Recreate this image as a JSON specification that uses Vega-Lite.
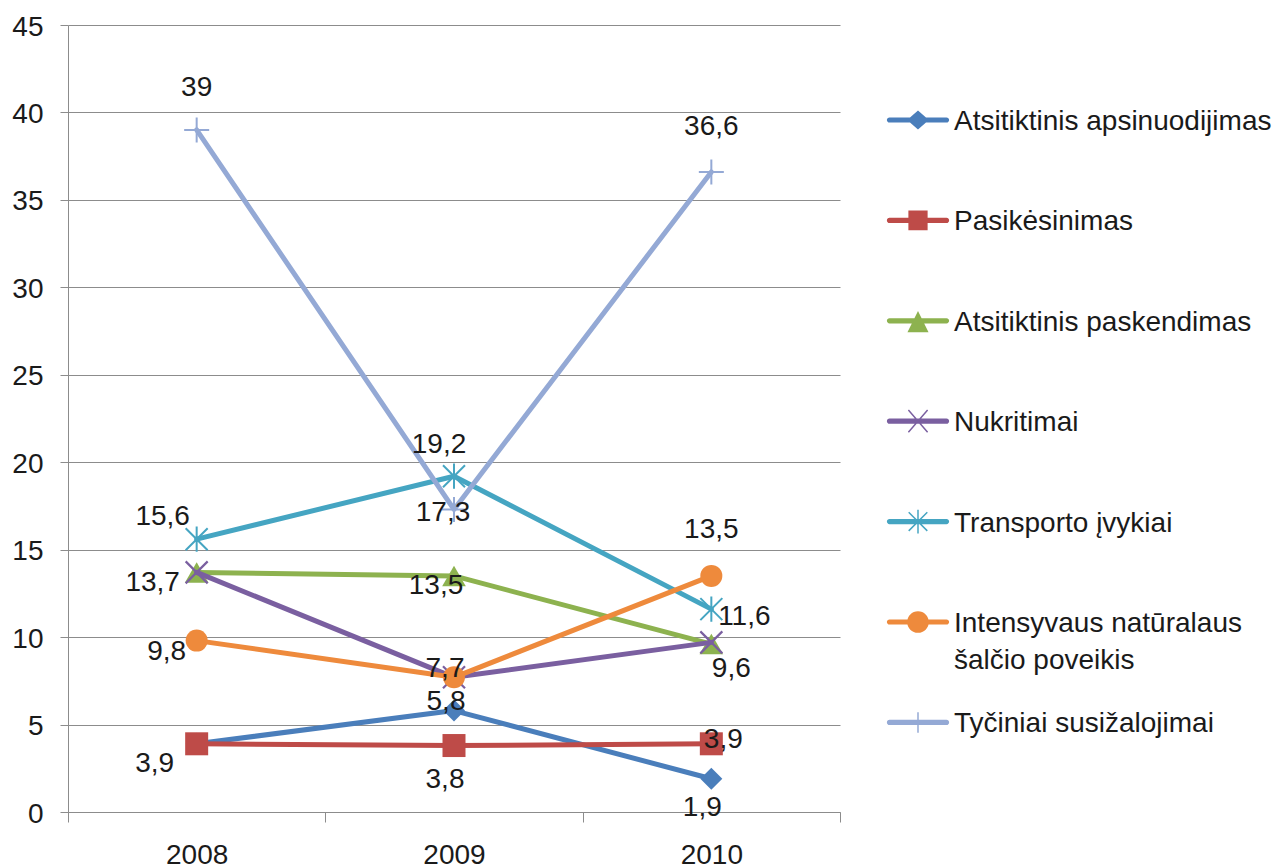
{
  "$schema": "https://vega.github.io/schema/vega-lite/v6.json",
  "width": 772,
  "height": 787,
  "autosize": {"type": "none"},
  "padding": {"left": 68, "top": 25, "right": 440, "bottom": 56},
  "background": "white",
  "config": {
    "view": {"stroke": null},
    "locale": {"number": {"decimal": ",", "thousands": " ", "grouping": [3], "currency": ["", ""]}},
    "axis": {
      "labelFont": "Liberation Sans",
      "labelFontSize": 28,
      "labelColor": "#1a1a1a",
      "domainColor": "#8c8c8c",
      "tickColor": "#8c8c8c",
      "gridColor": "#8c8c8c",
      "gridOpacity": 1,
      "domainWidth": 1,
      "tickWidth": 1,
      "gridWidth": 1
    },
    "text": {"font": "Liberation Sans", "fontSize": 28, "align": "center", "baseline": "middle"}
  },
  "data": {
    "values": [
      {"series": "Atsitiktinis apsinuodijimas", "year": "2008", "v": 3.9},
      {"series": "Atsitiktinis apsinuodijimas", "year": "2009", "v": 5.8},
      {"series": "Atsitiktinis apsinuodijimas", "year": "2010", "v": 1.9},
      {"series": "Pasikėsinimas", "year": "2008", "v": 3.9},
      {"series": "Pasikėsinimas", "year": "2009", "v": 3.8},
      {"series": "Pasikėsinimas", "year": "2010", "v": 3.9},
      {"series": "Atsitiktinis paskendimas", "year": "2008", "v": 13.7},
      {"series": "Atsitiktinis paskendimas", "year": "2009", "v": 13.5},
      {"series": "Atsitiktinis paskendimas", "year": "2010", "v": 9.6},
      {"series": "Nukritimai", "year": "2008", "v": 13.7},
      {"series": "Nukritimai", "year": "2009", "v": 7.7},
      {"series": "Nukritimai", "year": "2010", "v": 9.7},
      {"series": "Transporto įvykiai", "year": "2008", "v": 15.6},
      {"series": "Transporto įvykiai", "year": "2009", "v": 19.2},
      {"series": "Transporto įvykiai", "year": "2010", "v": 11.6},
      {"series": "Intensyvaus natūralaus šalčio poveikis", "year": "2008", "v": 9.8},
      {"series": "Intensyvaus natūralaus šalčio poveikis", "year": "2009", "v": 7.7},
      {"series": "Intensyvaus natūralaus šalčio poveikis", "year": "2010", "v": 13.5},
      {"series": "Tyčiniai susižalojimai", "year": "2008", "v": 39},
      {"series": "Tyčiniai susižalojimai", "year": "2009", "v": 17.3},
      {"series": "Tyčiniai susižalojimai", "year": "2010", "v": 36.6}
    ]
  },
  "encoding": {
    "x": {
      "field": "year", "type": "ordinal",
      "scale": {"type": "band", "paddingInner": 0, "paddingOuter": 0},
      "axis": {"title": null, "labelAngle": 0, "tickBand": "extent", "tickSize": 10, "labelPadding": 19, "grid": false}
    },
    "y": {
      "field": "v", "type": "quantitative",
      "scale": {"domain": [0, 45], "nice": false, "zero": true},
      "axis": {"title": null, "values": [0, 5, 10, 15, 20, 25, 30, 35, 40, 45], "tickSize": 8, "labelPadding": 17, "labelOffset": 2, "grid": true}
    }
  },
  "layer": [
    {
      "transform": [{"filter": "datum.series === 'Atsitiktinis apsinuodijimas'"}],
      "encoding": {"color": {"value": "#4A7EBB"}},
      "layer": [
        {"mark": {"type": "line", "strokeWidth": 5, "strokeCap": "round", "strokeJoin": "round"}, "encoding": {}},
        {"mark": {"type": "point", "shape": "diamond", "filled": true, "size": 484, "opacity": 1}, "encoding": {}}
      ]
    },
    {
      "transform": [{"filter": "datum.series === 'Pasikėsinimas'"}],
      "encoding": {"color": {"value": "#BE4B48"}},
      "layer": [
        {"mark": {"type": "line", "strokeWidth": 5, "strokeCap": "round", "strokeJoin": "round"}, "encoding": {}},
        {"mark": {"type": "point", "shape": "square", "filled": true, "size": 529, "opacity": 1}, "encoding": {}}
      ]
    },
    {
      "transform": [{"filter": "datum.series === 'Atsitiktinis paskendimas'"}],
      "encoding": {"color": {"value": "#8DB24F"}},
      "layer": [
        {"mark": {"type": "line", "strokeWidth": 5, "strokeCap": "round", "strokeJoin": "round"}, "encoding": {}},
        {"mark": {"type": "point", "shape": "triangle-up", "filled": true, "size": 560, "opacity": 1}, "encoding": {}}
      ]
    },
    {
      "transform": [{"filter": "datum.series === 'Nukritimai'"}],
      "encoding": {"color": {"value": "#7A5FA0"}},
      "layer": [
        {"mark": {"type": "line", "strokeWidth": 5, "strokeCap": "round", "strokeJoin": "round"}, "encoding": {}},
        {"mark": {"type": "point", "shape": "M-1,-1L1,1M-1,1L1,-1", "filled": false, "strokeWidth": 2.2, "size": 484, "opacity": 1}, "encoding": {}}
      ]
    },
    {
      "transform": [{"filter": "datum.series === 'Transporto įvykiai'"}],
      "encoding": {"color": {"value": "#45A5C2"}},
      "layer": [
        {"mark": {"type": "line", "strokeWidth": 5, "strokeCap": "round", "strokeJoin": "round"}, "encoding": {}},
        {"mark": {"type": "point", "shape": "M0,-1.15L0,1.15M-1,-1L1,1M-1,1L1,-1", "filled": false, "strokeWidth": 2, "size": 484, "opacity": 1}, "encoding": {}}
      ]
    },
    {
      "transform": [{"filter": "datum.series === 'Intensyvaus natūralaus šalčio poveikis'"}],
      "encoding": {"color": {"value": "#EE8A3C"}},
      "layer": [
        {"mark": {"type": "line", "strokeWidth": 5, "strokeCap": "round", "strokeJoin": "round"}, "encoding": {}},
        {"mark": {"type": "point", "shape": "circle", "filled": true, "size": 484, "opacity": 1}, "encoding": {}}
      ]
    },
    {
      "transform": [{"filter": "datum.series === 'Tyčiniai susižalojimai'"}],
      "encoding": {"color": {"value": "#94A9D5"}},
      "layer": [
        {"mark": {"type": "line", "strokeWidth": 5, "strokeCap": "round", "strokeJoin": "round"}, "encoding": {}},
        {"mark": {"type": "point", "shape": "M-1,0L1,0M0,-1L0,1", "filled": false, "strokeWidth": 2, "size": 625, "opacity": 1}, "encoding": {}}
      ]
    },
    {
      "mark": {"type": "point", "filled": true, "opacity": 0, "size": 3844},
      "encoding": {
        "fill": {
          "field": "series", "type": "nominal",
          "scale": {
            "domain": ["Atsitiktinis apsinuodijimas", "Pasikėsinimas", "Atsitiktinis paskendimas", "Nukritimai", "Transporto įvykiai", "Intensyvaus natūralaus šalčio poveikis", "Tyčiniai susižalojimai"],
            "range": ["#4A7EBB", "#BE4B48", "#8DB24F", "#7A5FA0", "#45A5C2", "#EE8A3C", "#94A9D5"]
          },
          "legend": {
            "title": null, "orient": "none", "legendX": 819, "legendY": 64, "padding": 0,
            "labelFont": "Liberation Sans", "labelFontSize": 28, "labelColor": "#1a1a1a", "labelLimit": 420,
            "labelOffset": 5, "labelBaseline": "top", "symbolSize": 3844, "symbolStrokeWidth": 0,
            "symbolOpacity": 1, "rowPadding": 16.4, "gridAlign": "all",
            "labelExpr": "datum.label === 'Intensyvaus natūralaus šalčio poveikis' ? ['Intensyvaus natūralaus', 'šalčio poveikis'] : datum.label",
            "encode": {"labels": {"update": {"dy": {"value": -12}, "lineHeight": {"value": 37}}}}
          }
        },
        "shape": {
          "field": "series", "type": "nominal",
          "scale": {
            "domain": ["Atsitiktinis apsinuodijimas", "Pasikėsinimas", "Atsitiktinis paskendimas", "Nukritimai", "Transporto įvykiai", "Intensyvaus natūralaus šalčio poveikis", "Tyčiniai susižalojimai"],
            "range": [
              "M-0.92,-0.084L0.92,-0.084A0.084,0.084,0,0,1,0.92,0.084L-0.92,0.084A0.084,0.084,0,0,1,-0.92,-0.084ZM-0.35,0L0,-0.31L0.35,0L0,0.31Z",
              "M-0.92,-0.084L0.92,-0.084A0.084,0.084,0,0,1,0.92,0.084L-0.92,0.084A0.084,0.084,0,0,1,-0.92,-0.084ZM-0.31,-0.32L0.31,-0.32L0.31,0.32L-0.31,0.32Z",
              "M-0.92,-0.084L0.92,-0.084A0.084,0.084,0,0,1,0.92,0.084L-0.92,0.084A0.084,0.084,0,0,1,-0.92,-0.084ZM0,-0.32L0.34,0.37L-0.34,0.37Z",
              "M-0.92,-0.084L0.92,-0.084A0.084,0.084,0,0,1,0.92,0.084L-0.92,0.084A0.084,0.084,0,0,1,-0.92,-0.084ZM-0.292,-0.376L0.328,0.344L0.292,0.376L-0.328,-0.344ZM-0.328,0.344L0.292,-0.376L0.328,-0.344L-0.292,0.376Z",
              "M-0.92,-0.084L0.92,-0.084A0.084,0.084,0,0,1,0.92,0.084L-0.92,0.084A0.084,0.084,0,0,1,-0.92,-0.084ZM-0.283,-0.317L0.317,0.283L0.283,0.317L-0.317,-0.283ZM-0.317,0.283L0.283,-0.317L0.317,-0.283L-0.283,0.317ZM-0.024,-0.38L0.024,-0.38L0.024,0.38L-0.024,0.38Z",
              "M-0.92,-0.084L0.92,-0.084A0.084,0.084,0,0,1,0.92,0.084L-0.92,0.084A0.084,0.084,0,0,1,-0.92,-0.084ZM-0.35,0A0.35,0.35,0,1,1,0.35,0A0.35,0.35,0,1,1,-0.35,0Z",
              "M-0.92,-0.084L0.92,-0.084A0.084,0.084,0,0,1,0.92,0.084L-0.92,0.084A0.084,0.084,0,0,1,-0.92,-0.084ZM-0.024,-0.33L0.024,-0.33L0.024,0.33L-0.024,0.33Z"
            ]
          },
          "legend": {
            "title": null, "orient": "none", "legendX": 819, "legendY": 64, "padding": 0,
            "labelFont": "Liberation Sans", "labelFontSize": 28, "labelColor": "#1a1a1a", "labelLimit": 420,
            "labelOffset": 5, "labelBaseline": "top", "symbolSize": 3844, "symbolStrokeWidth": 0,
            "symbolOpacity": 1, "rowPadding": 16.4, "gridAlign": "all",
            "labelExpr": "datum.label === 'Intensyvaus natūralaus šalčio poveikis' ? ['Intensyvaus natūralaus', 'šalčio poveikis'] : datum.label",
            "encode": {"labels": {"update": {"dy": {"value": -12}, "lineHeight": {"value": 37}}}}
          }
        }
      }
    },
    {
      "encoding": {
        "text": {"field": "v", "type": "quantitative", "format": ".1~f"},
        "color": {"value": "#1a1a1a"}
      },
      "layer": [
        {"transform": [{"filter": "datum.series === 'Tyčiniai susižalojimai' && datum.year === '2008'"}], "mark": {"type": "text", "dx": 0, "dy": -42}},
        {"transform": [{"filter": "datum.series === 'Tyčiniai susižalojimai' && datum.year === '2009'"}], "mark": {"type": "text", "dx": -11, "dy": 4}},
        {"transform": [{"filter": "datum.series === 'Tyčiniai susižalojimai' && datum.year === '2010'"}], "mark": {"type": "text", "dx": 0, "dy": -45}},
        {"transform": [{"filter": "datum.series === 'Transporto įvykiai' && datum.year === '2008'"}], "mark": {"type": "text", "dx": -34, "dy": -22}},
        {"transform": [{"filter": "datum.series === 'Transporto įvykiai' && datum.year === '2009'"}], "mark": {"type": "text", "dx": -15, "dy": -31}},
        {"transform": [{"filter": "datum.series === 'Transporto įvykiai' && datum.year === '2010'"}], "mark": {"type": "text", "dx": 33, "dy": 8}},
        {"transform": [{"filter": "datum.series === 'Atsitiktinis paskendimas' && datum.year === '2008'"}], "mark": {"type": "text", "dx": -44, "dy": 11}},
        {"transform": [{"filter": "datum.series === 'Atsitiktinis paskendimas' && datum.year === '2009'"}], "mark": {"type": "text", "dx": -18, "dy": 10}},
        {"transform": [{"filter": "datum.series === 'Atsitiktinis paskendimas' && datum.year === '2010'"}], "mark": {"type": "text", "dx": 20, "dy": 25}},
        {"transform": [{"filter": "datum.series === 'Intensyvaus natūralaus šalčio poveikis' && datum.year === '2008'"}], "mark": {"type": "text", "dx": -30, "dy": 11}},
        {"transform": [{"filter": "datum.series === 'Intensyvaus natūralaus šalčio poveikis' && datum.year === '2009'"}], "mark": {"type": "text", "dx": -9, "dy": -8}},
        {"transform": [{"filter": "datum.series === 'Intensyvaus natūralaus šalčio poveikis' && datum.year === '2010'"}], "mark": {"type": "text", "dx": 0, "dy": -46}},
        {"transform": [{"filter": "datum.series === 'Atsitiktinis apsinuodijimas' && datum.year === '2008'"}], "mark": {"type": "text", "dx": -42, "dy": 20}},
        {"transform": [{"filter": "datum.series === 'Atsitiktinis apsinuodijimas' && datum.year === '2009'"}], "mark": {"type": "text", "dx": -8, "dy": -9}},
        {"transform": [{"filter": "datum.series === 'Atsitiktinis apsinuodijimas' && datum.year === '2010'"}], "mark": {"type": "text", "dx": -9, "dy": 29}},
        {"transform": [{"filter": "datum.series === 'Pasikėsinimas' && datum.year === '2009'"}], "mark": {"type": "text", "dx": -9, "dy": 34}},
        {"transform": [{"filter": "datum.series === 'Pasikėsinimas' && datum.year === '2010'"}], "mark": {"type": "text", "dx": 12, "dy": -4}}
      ]
    }
  ]
}
